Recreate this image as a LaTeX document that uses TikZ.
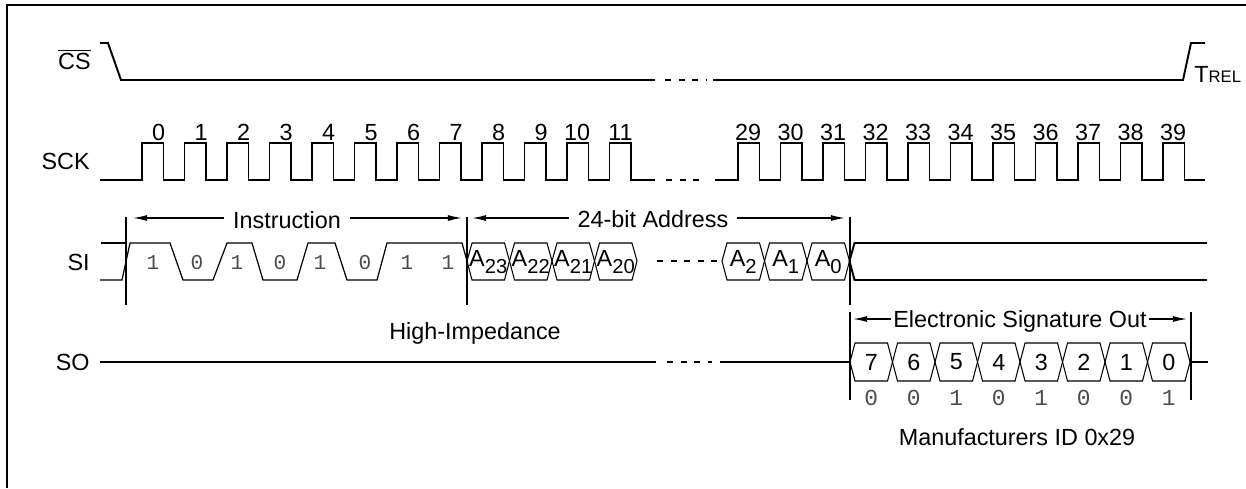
\documentclass[tikz,border=0pt]{standalone}
\usepackage{fontspec}
\setmainfont{Liberation Sans}
\setmonofont{Liberation Mono}
\usetikzlibrary{arrows.meta}

\newcommand{\lowidx}[1]{\raisebox{-0.6ex}{\fontsize{11.5}{11.5}\selectfont#1}}

\begin{document}
\begin{tikzpicture}[
  x=0.02cm, y=-0.02cm,
  font=\fontsize{13.3}{15}\selectfont,
  frame/.style={line width=1.2pt},
  wave/.style={line width=1.1pt},
  thinwave/.style={line width=0.7pt},
  hexline/.style={line width=0.6pt},
  marker/.style={line width=1pt},
  dim/.style={line width=0.7pt, -{Latex[length=8pt,width=3.4pt]}},
  dots/.style={line width=1.1pt, dash pattern=on 3.4pt off 4.3pt},
  sig/.style={anchor=east, inner sep=0pt},
  num/.style={anchor=base east, inner sep=0pt},
  bit/.style={font=\fontsize{12}{13}\selectfont\ttfamily, text=black!70, inner sep=0pt},
  hextxt/.style={font=\fontsize{13.3}{15}\selectfont, inner sep=0pt},
  note/.style={anchor=base, inner ysep=0pt, inner xsep=5pt},
]
\useasboundingbox (0,0) rectangle (1246,488);

% frame (clipped by the page)
\draw[frame] (7,488) -- (7,5) -- (1246,5);

% CS
\node[sig, anchor=base east] (cs) at (91,69) {$\overline{\mbox{CS}}$};
\draw[wave] (100,43) -- (108,43) -- (121,80) -- (655,80);
\draw[dots] (665,80) -- (706,80);
\draw[wave] (713,80) -- (1183,80) -- (1191,43) -- (1205,43);
\node[anchor=base west, inner sep=0pt] (trel) at (1194,82) {T{\fontsize{9.5}{9.5}\selectfont REL}};

% SCK
\node[sig] (sck) at (90,161) {SCK};
\draw[wave] (100,180) \foreach \k in {0,...,11} { -- ({142+42.5*\k},180) -- ++(0,-37) -- ++(21.5,0) -- ++(0,37) } -- (655,180);
\draw[dots] (666,180) -- (700,180);
\draw[wave] (715,180) \foreach \k in {29,...,39} { -- ({42.5*\k-494.5},180) -- ++(0,-37) -- ++(21.5,0) -- ++(0,37) } -- (1205,180);
\foreach \k in {0,...,11} \node[num] (c\k) at ({165.5+42.5*\k},140) {\k};
\foreach \k in {29,...,39} \node[num] (c\k) at ({42.5*\k-471},140) {\k};

% SI
\node[sig] (si) at (90,262) {SI};
\draw[thinwave] (101,243) -- (126,243);
\draw[thinwave] (100,280) -- (122,280) -- (130,243) -- (170,243) -- (183,280) -- (213,280) -- (227,243)
  -- (252,243) -- (263,280) -- (297,280) -- (308,243) -- (335,243) -- (347,280) -- (377,280)
  -- (387,243) -- (462,243) -- (467,261);
\foreach \x/\b [count=\i] in {153/1,197/0,237/1,280/0,320/1,365/0,407/1,448/1}
  \node[bit] (sib\i) at (\x,263) {\b};

% address bytes
\foreach \a/\t in {467/23,509.5/22,552/21,594.5/20,722/2,764.5/1,807/0} {
  \draw[hexline] (\a,261) -- ({\a+5},243) -- ({\a+37.5},243) -- ({\a+42.5},261) -- ({\a+37.5},280) -- ({\a+5},280) -- cycle;
  \node[hextxt] (adr\t) at ({\a+21.25},262) {A\lowidx{\t}};
}
\draw[thinwave, dash pattern=on 3.4pt off 4.3pt] (657,261) -- (717,261);
\draw[wave] (849.5,261) -- (854.5,243) -- (1207,243);
\draw[wave] (849.5,261) -- (854.5,280) -- (1207,280);

% markers
\coordinate (m1t) at (126,217); \coordinate (m1b) at (126,305);
\coordinate (m2t) at (467,217); \coordinate (m2b) at (467,305);
\coordinate (m3t) at (850,217); \coordinate (m3b) at (850,305);
\coordinate (m4t) at (850,312); \coordinate (m4b) at (850,400);
\coordinate (m5t) at (1191,312); \coordinate (m5b) at (1191,400);
\foreach \m in {1,...,5} \draw[marker] (m\m t) -- (m\m b);

% Instruction / Address spans
\coordinate (iL) at (133,218); \coordinate (iR) at (462,218);
\coordinate (aL) at (472,218); \coordinate (aR) at (845,218);
\node[note] (instr) at (287,228) {Instruction};
\draw[dim] (instr.west |- iL) -- (iL);
\draw[dim] (instr.east |- iR) -- (iR);
\node[note] (addr) at (653,227) {24-bit Address};
\draw[dim] (addr.west |- aL) -- (aL);
\draw[dim] (addr.east |- aR) -- (aR);

% SO
\node[sig] (so) at (90,362) {SO};
\node[note] (hiz) at (475,339) {High-Impedance};
\draw[wave] (100,362) -- (656,362);
\draw[dots] (667,362) -- (712,362);
\draw[wave] (720,362) -- (850,362);
\foreach \i [evaluate=\i as \a using 850+42.5*\i, evaluate=\i as \v using int(7-\i)] in {0,...,7} {
  \draw[hexline] (\a,362) -- ({\a+5},343) -- ({\a+37.5},343) -- ({\a+42.5},362) -- ({\a+37.5},381) -- ({\a+5},381) -- cycle;
  \node[hextxt] (so\v) at ({\a+21.25},362) {\v};
}
\draw[wave] (1190,362) -- (1208,362);
\foreach \b [count=\i] in {0,0,1,0,1,0,0,1}
  \node[bit, font=\fontsize{13}{14}\selectfont\ttfamily] (sob\i) at ({828.75+42.5*\i},398) {\b};

% signature span
\coordinate (eL) at (853,319); \coordinate (eR) at (1187,319);
\node[note, inner xsep=1pt] (sig) at (1020,327) {Electronic Signature Out};
\draw[dim] (sig.west |- eL) -- (eL);
\draw[dim] (sig.east |- eR) -- (eR);
\node[note] (mfid) at (1017,445) {Manufacturers ID 0x29};

\end{tikzpicture}
\end{document}
